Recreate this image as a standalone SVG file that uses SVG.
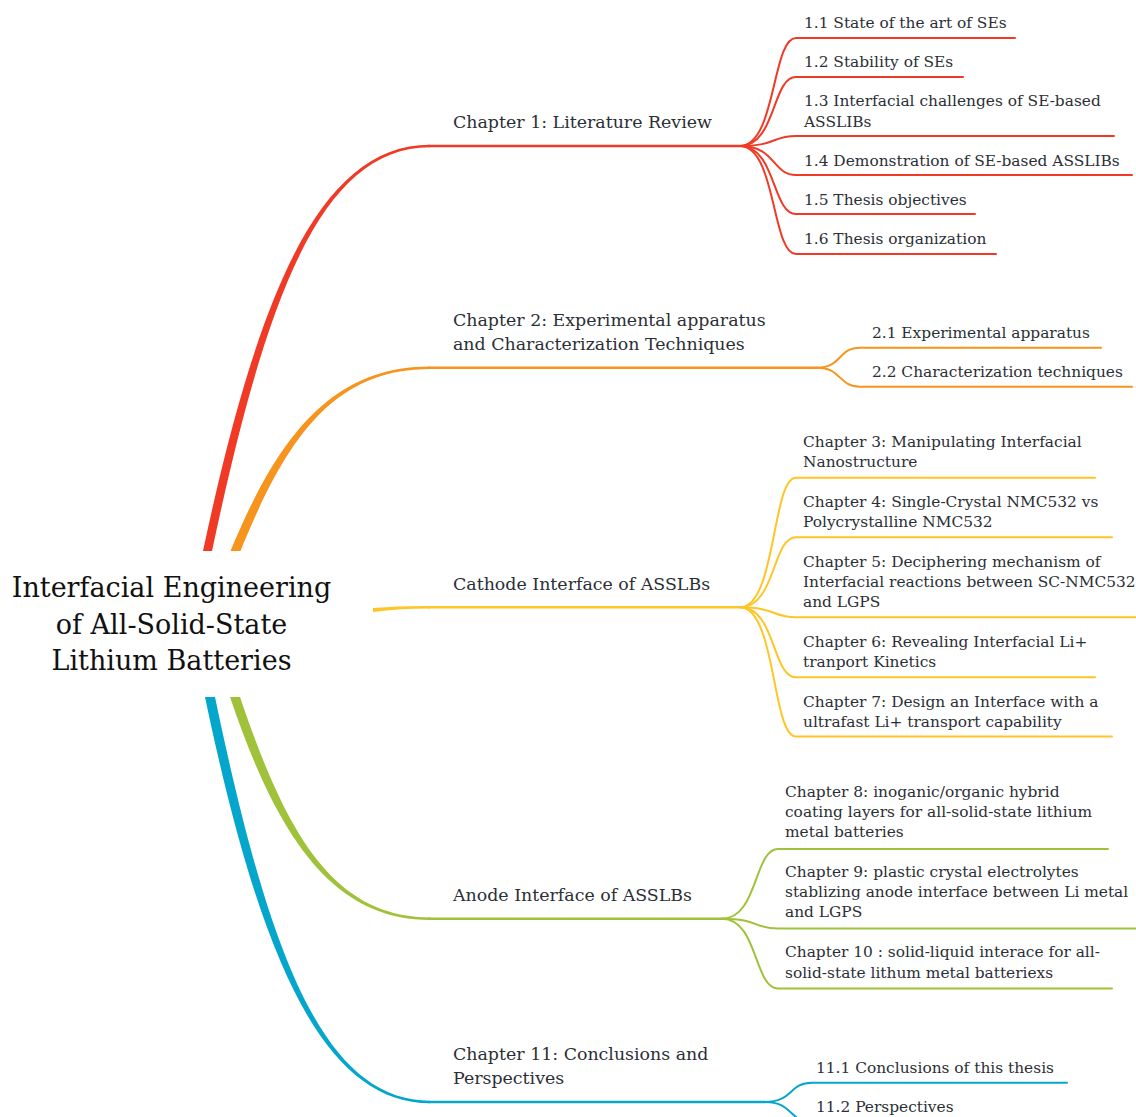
<svg xmlns="http://www.w3.org/2000/svg" width="1136" height="1117" viewBox="0 0 1136 1117">
<style>
text{font-family:"DejaVu Serif","Liberation Serif",serif;fill:#2b2f36}
.root{font-size:27px;fill:#111;text-anchor:middle}
.main{font-size:17.4px}
.sub{font-size:15.4px}
.ln{fill:none;stroke-linecap:round}
.r{stroke:#f03a26}.o{stroke:#f7941d}.y{stroke:#ffc425}.g{stroke:#a0c23b}.c{stroke:#04a6cc}
.m{stroke-width:2.6}
.s{stroke-width:2}
</style>
<rect width="1136" height="1117" fill="#fff"/>
<g id="connectors">
  <path fill="#f03a26" d="M203 551 C257 298 318 144.8 430 144.8 L430 147.2 C319 147.3 265 302 212 551 Z"/>
  <path fill="#f7941d" d="M230.5 551 C278 436 332 366.4 430 366.4 L430 369 C333 369.1 286 439 240.5 551 Z"/>
  <path fill="#ffc425" d="M373 608 Q400 605.8 430 606 L430 608.6 Q400 608.6 373 612 Z"/>
  <path fill="#a0c23b" d="M230 697 C277 836 332 920 430 920 L430 917.4 C333 917.3 286 833 240 697 Z"/>
  <path fill="#04a6cc" d="M205 697 C258 950 320 1103.3 430 1103.3 L430 1100.7 C321 1100.6 267 946 215 697 Z"/>
  <path class="ln r m" d="M429 146 L740 146"/>
  <path class="ln o m" d="M429 367.7 L817 367.7"/>
  <path class="ln y m" d="M429 607.3 L740 607.3"/>
  <path class="ln g m" d="M429 918.7 L722 918.7"/>
  <path class="ln c m" d="M429 1102 L765 1102"/>
  <path class="ln r s" d="M740 146 C776 146 772 38 796 38 L1015 38"/>
  <path class="ln r s" d="M740 146 C776 146 772 77 796 77 L963 77"/>
  <path class="ln r s" d="M740 146 C776 146 772 136 796 136 L1114 136"/>
  <path class="ln r s" d="M740 146 C776 146 772 175 796 175 L1132 175"/>
  <path class="ln r s" d="M740 146 C776 146 772 214 796 214 L975 214"/>
  <path class="ln r s" d="M740 146 C776 146 772 254 796 254 L996 254"/>
  <path class="ln o s" d="M817 367.7 C842 367.7 838 347.7 860 347.7 L1101 347.7"/>
  <path class="ln o s" d="M817 367.7 C842 367.7 838 386.7 860 386.7 L1132 386.7"/>
  <path class="ln y s" d="M740 607.3 C776 607.3 772 477.7 796 477.7 L1095 477.7"/>
  <path class="ln y s" d="M740 607.3 C776 607.3 772 537.3 796 537.3 L1112 537.3"/>
  <path class="ln y s" d="M740 607.3 C776 607.3 772 617.3 796 617.3 L1136 617.3"/>
  <path class="ln y s" d="M740 607.3 C776 607.3 772 677.3 796 677.3 L1095 677.3"/>
  <path class="ln y s" d="M740 607.3 C776 607.3 772 736.5 796 736.5 L1112 736.5"/>
  <path class="ln g s" d="M722 918.7 C758 918.7 754 849 778 849 L1108 849"/>
  <path class="ln g s" d="M722 918.7 C758 918.7 754 928.5 778 928.5 L1136 928.5"/>
  <path class="ln g s" d="M722 918.7 C758 918.7 754 988.5 778 988.5 L1112 988.5"/>
  <path class="ln c s" d="M765 1102 C793 1102 789 1082.7 812 1082.7 L1067 1082.7"/>
  <path class="ln c s" d="M765 1102 C793 1102 789 1122 812 1122 L1000 1122"/>
</g>
<g id="root">
  <text class="root" x="171.5" y="597">Interfacial Engineering</text>
  <text class="root" x="171.5" y="634">of All-Solid-State</text>
  <text class="root" x="171.5" y="670">Lithium Batteries</text>
</g>
<g id="ch1"><text class="main" x="453" y="127.5">Chapter 1: Literature Review</text></g>
<g id="s1-1"><text class="sub" x="804" y="28">1.1 State of the art of SEs</text></g>
<g id="s1-2"><text class="sub" x="804" y="67">1.2 Stability of SEs</text></g>
<g id="s1-3"><text class="sub" x="804" y="106">1.3 Interfacial challenges of SE-based</text><text class="sub" x="804" y="126.5">ASSLIBs</text></g>
<g id="s1-4"><text class="sub" x="804" y="166">1.4 Demonstration of SE-based ASSLIBs</text></g>
<g id="s1-5"><text class="sub" x="804" y="204.5">1.5 Thesis objectives</text></g>
<g id="s1-6"><text class="sub" x="804" y="244">1.6 Thesis organization</text></g>
<g id="ch2"><text class="main" x="453" y="325.5">Chapter 2: Experimental apparatus</text><text class="main" x="453" y="349.5">and Characterization Techniques</text></g>
<g id="s2-1"><text class="sub" x="872" y="338">2.1 Experimental apparatus</text></g>
<g id="s2-2"><text class="sub" x="872" y="377">2.2 Characterization techniques</text></g>
<g id="cathode"><text class="main" x="453" y="589.5">Cathode Interface of ASSLBs</text></g>
<g id="ch3"><text class="sub" x="803" y="447">Chapter 3: Manipulating Interfacial</text><text class="sub" x="803" y="467.3">Nanostructure</text></g>
<g id="ch4"><text class="sub" x="803" y="507">Chapter 4: Single-Crystal NMC532 vs</text><text class="sub" x="803" y="527">Polycrystalline NMC532</text></g>
<g id="ch5"><text class="sub" x="803" y="567">Chapter 5: Deciphering mechanism of</text><text class="sub" x="803" y="587.3">Interfacial reactions between SC-NMC532</text><text class="sub" x="803" y="607">and LGPS</text></g>
<g id="ch6"><text class="sub" x="803" y="647">Chapter 6: Revealing Interfacial Li+</text><text class="sub" x="803" y="667">tranport Kinetics</text></g>
<g id="ch7"><text class="sub" x="803" y="707">Chapter 7: Design an Interface with a</text><text class="sub" x="803" y="727">ultrafast Li+ transport capability</text></g>
<g id="anode"><text class="main" x="453" y="900.5">Anode Interface of ASSLBs</text></g>
<g id="ch8"><text class="sub" x="785" y="797">Chapter 8: inoganic/organic hybrid</text><text class="sub" x="785" y="817.3">coating layers for all-solid-state lithium</text><text class="sub" x="785" y="837">metal batteries</text></g>
<g id="ch9"><text class="sub" x="785" y="877">Chapter 9: plastic crystal electrolytes</text><text class="sub" x="785" y="897.3">stablizing anode interface between Li metal</text><text class="sub" x="785" y="917">and LGPS</text></g>
<g id="ch10"><text class="sub" x="785" y="957.3">Chapter 10 : solid-liquid interace for all-</text><text class="sub" x="785" y="977.5">solid-state lithum metal batteriexs</text></g>
<g id="ch11"><text class="main" x="453" y="1060">Chapter 11: Conclusions and</text><text class="main" x="453" y="1083.5">Perspectives</text></g>
<g id="s11-1"><text class="sub" x="816" y="1073">11.1 Conclusions of this thesis</text></g>
<g id="s11-2"><text class="sub" x="816" y="1112">11.2 Perspectives</text></g>
</svg>
